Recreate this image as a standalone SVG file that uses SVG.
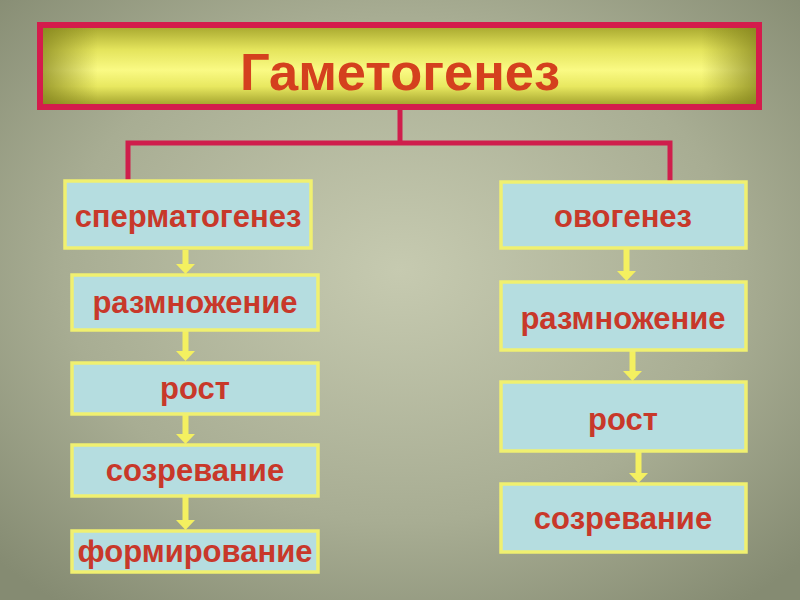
<svg xmlns="http://www.w3.org/2000/svg" width="800" height="600" viewBox="0 0 800 600">
<defs>
<radialGradient id="bg" cx="0.5" cy="0.45" r="0.7">
<stop offset="0" stop-color="#c6cab0"/>
<stop offset="0.6" stop-color="#a8ad93"/>
<stop offset="1" stop-color="#858b72"/>
</radialGradient>
<linearGradient id="tv" x1="0" y1="0" x2="0" y2="1">
<stop offset="0" stop-color="#a4a42c"/>
<stop offset="0.3" stop-color="#e4e45c"/>
<stop offset="0.55" stop-color="#fafa84"/>
<stop offset="0.75" stop-color="#e8e860"/>
<stop offset="1" stop-color="#9c9c28"/>
</linearGradient>
<linearGradient id="th" x1="0" y1="0" x2="1" y2="0">
<stop offset="0" stop-color="#7a7a18" stop-opacity="0.7"/>
<stop offset="0.08" stop-color="#7a7a18" stop-opacity="0"/>
<stop offset="0.92" stop-color="#7a7a18" stop-opacity="0"/>
<stop offset="1" stop-color="#7a7a18" stop-opacity="0.7"/>
</linearGradient>
</defs>
<style>
.box{fill:#b5dde0;stroke:#f0f070;stroke-width:3.5}
.lbl{font-family:"Liberation Sans",Arial,sans-serif;font-weight:bold;font-size:31px;fill:#c8382a;text-anchor:middle}
.con{fill:none;stroke:#cf1e4c;stroke-width:5}
.arr{fill:#f4f060;stroke:none}
</style>
<rect x="0" y="0" width="800" height="600" fill="url(#bg)"/>

<g id="title">
<rect x="40" y="25" width="719" height="82" fill="url(#tv)"/>
<rect x="40" y="25" width="719" height="82" fill="url(#th)"/>
<rect x="40" y="25" width="719" height="82" fill="none" stroke="#d41c4c" stroke-width="6"/>
<text x="400" y="90" font-family="'Liberation Sans',Arial,sans-serif" font-weight="bold" font-size="52" fill="#d4401e" text-anchor="middle" textLength="320" lengthAdjust="spacingAndGlyphs">Гаметогенез</text>
</g>

<g id="connectors">
<path class="con" d="M400 108 V143"/>
<path class="con" d="M128 182 V143 H670 V182"/>
<path class="arr" d="M182.5 250 h6 v14 h6.5 l-9.5 10 l-9.5 -10 h6.5 z"/>
<path class="arr" d="M182.5 331 h6 v20 h6.5 l-9.5 10 l-9.5 -10 h6.5 z"/>
<path class="arr" d="M182.5 415 h6 v19 h6.5 l-9.5 10 l-9.5 -10 h6.5 z"/>
<path class="arr" d="M182.5 497 h6 v23 h6.5 l-9.5 10 l-9.5 -10 h6.5 z"/>
<path class="arr" d="M623.5 249 h6 v22 h6.5 l-9.5 10 l-9.5 -10 h6.5 z"/>
<path class="arr" d="M629.5 351 h6 v20 h6.5 l-9.5 10 l-9.5 -10 h6.5 z"/>
<path class="arr" d="M635.5 452 h6 v21 h6.5 l-9.5 10 l-9.5 -10 h6.5 z"/>
</g>

<g id="n-sperm"><rect class="box" x="65" y="181" width="246" height="67"/><text class="lbl" x="188" y="227">сперматогенез</text></g>
<g id="n-l-razm"><rect class="box" x="72" y="275" width="246" height="55"/><text class="lbl" x="195" y="313">размножение</text></g>
<g id="n-l-rost"><rect class="box" x="72" y="363" width="246" height="51"/><text class="lbl" x="195" y="399">рост</text></g>
<g id="n-l-sozr"><rect class="box" x="72" y="445" width="246" height="51"/><text class="lbl" x="195" y="481">созревание</text></g>
<g id="n-l-form"><rect class="box" x="72" y="531" width="246" height="41"/><text class="lbl" x="195" y="562">формирование</text></g>

<g id="n-ovo"><rect class="box" x="501" y="182" width="245" height="66"/><text class="lbl" x="623" y="227">овогенез</text></g>
<g id="n-r-razm"><rect class="box" x="501" y="282" width="245" height="68"/><text class="lbl" x="623" y="329">размножение</text></g>
<g id="n-r-rost"><rect class="box" x="501" y="382" width="245" height="69"/><text class="lbl" x="623" y="430">рост</text></g>
<g id="n-r-sozr"><rect class="box" x="501" y="484" width="245" height="68"/><text class="lbl" x="623" y="529">созревание</text></g>
</svg>
